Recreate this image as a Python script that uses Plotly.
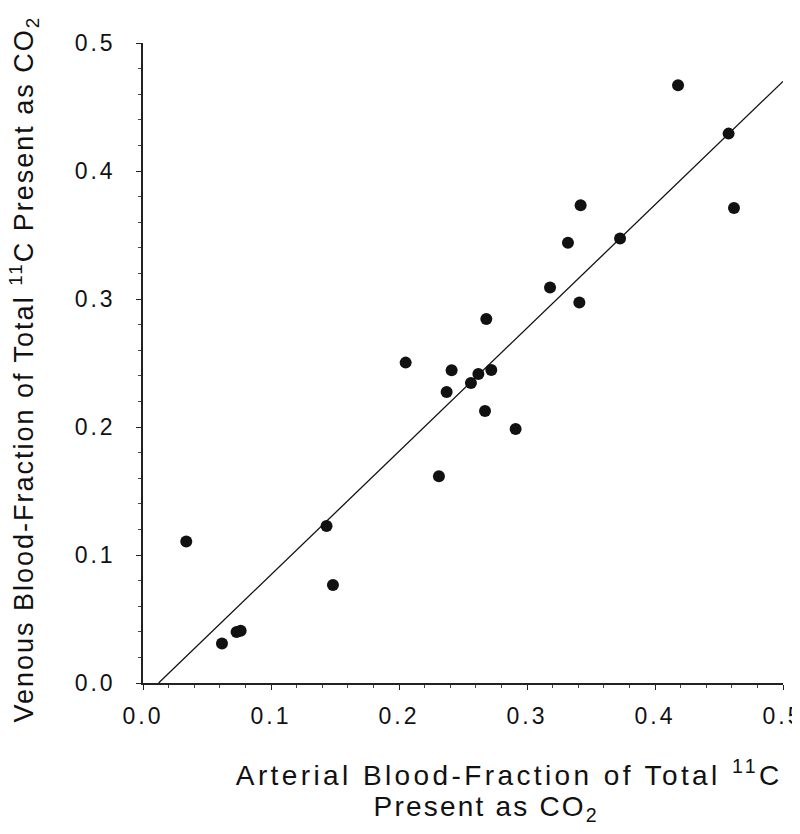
import plotly.graph_objects as go

# Data
arterial = [0.418, 0.4575, 0.4617, 0.3419, 0.332, 0.3727, 0.318, 0.3409, 0.2682,
            0.2052, 0.2411, 0.262, 0.2721, 0.2562, 0.2372, 0.2672, 0.2911, 0.2312,
            0.0338, 0.1434, 0.1484, 0.0617, 0.0731, 0.0763]
venous = [0.467, 0.4292, 0.3711, 0.3732, 0.344, 0.3472, 0.309, 0.2972, 0.2844,
          0.2503, 0.2443, 0.2414, 0.2445, 0.2344, 0.2273, 0.2125, 0.1984, 0.1615,
          0.1105, 0.1227, 0.0766, 0.0308, 0.0398, 0.0409]
fit_x = [0.0122, 0.5]
fit_y = [0.0, 0.47]
tick_vals = [0.0, 0.1, 0.2, 0.3, 0.4, 0.5]
tick_text = ["0.0", "0.1", "0.2", "0.3", "0.4", "0.5"]

x_title_1 = "Arterial Blood-Fraction of Total <sup>11</sup>C"
x_title_2 = "Present as CO<sub>2</sub>"
y_title = "Venous Blood-Fraction of Total <sup>11</sup>C Present as CO<sub>2</sub>"

FONT = "Liberation Sans, Arial, sans-serif"
INK = "#111111"

fig = go.Figure()
fig.add_trace(go.Scatter(x=fit_x, y=fit_y, mode="lines",
                         line=dict(color=INK, width=1.3), hoverinfo="skip"))
fig.add_trace(go.Scatter(x=arterial, y=venous, mode="markers",
                         marker=dict(color=INK, size=12, line=dict(width=0))))

# The page body keeps the browser's default 8px margin, so the figure is
# made 8px smaller and its margins shifted to land on the reference layout.
OFF = 8
W, H = 800 - OFF, 834 - OFF
L, T = 142.7 - OFF, 42.7 - OFF
PW, PH = 640, 640
R, B = W - L - PW, H - T - PH

axis_common = dict(
    range=[0, 0.5], tickvals=tick_vals, ticktext=tick_text,
    showgrid=False, zeroline=False, showline=True, linecolor="#222222", linewidth=1.5,
    ticks="outside", ticklen=5, tickwidth=1.3, tickcolor="#222222",
    tickfont=dict(family=FONT, size=23, color=INK),
    minor=dict(dtick=0.02, ticks="outside", ticklen=3, tickwidth=1, tickcolor="#444444", showgrid=False),
    fixedrange=True, automargin=False,
)

fig.update_layout(
    width=W, height=H,
    margin=dict(l=L, r=R, t=T, b=B, pad=0, autoexpand=False),
    paper_bgcolor="white", plot_bgcolor="white",
    showlegend=False,
    xaxis=dict(**axis_common, ticklabelstandoff=7),
    yaxis=dict(**axis_common, ticklabelstandoff=16),
    font=dict(family=FONT, color=INK),
)

# screen-pixel -> paper coordinates
def px_x(px):
    return (px - OFF - L) / PW

def px_y(py):
    return (T + PH - (py - OFF)) / PH

fig.add_annotation(text=x_title_1, xref="paper", yref="paper", x=px_x(509), y=px_y(773),
                   xanchor="center", yanchor="middle", showarrow=False,
                   font=dict(family=FONT, size=28, color=INK))
fig.add_annotation(text=x_title_2, xref="paper", yref="paper", x=px_x(486), y=px_y(808),
                   xanchor="center", yanchor="middle", showarrow=False,
                   font=dict(family=FONT, size=28, color=INK))
fig.add_annotation(text=y_title, xref="paper", yref="paper", x=px_x(24), y=px_y(369),
                   xanchor="center", yanchor="middle", showarrow=False, textangle=-90,
                   font=dict(family=FONT, size=27, color=INK))

post = """
var gd = document.getElementById('{plot_id}');
function spacing(){
  gd.querySelectorAll('.xtick text, .ytick text').forEach(function(t){ t.style.letterSpacing='3px'; });
  var ann = gd.querySelectorAll('.annotation-text');
  var sp = ['3.4px', '2.2px', '2.0px'];
  ann.forEach(function(t, i){ t.style.letterSpacing = sp[i] || '2.4px'; });
}
spacing();
gd.on('plotly_afterplot', spacing);
"""

fig.write_html("out.html", post_script=post, config={"displayModeBar": False})
